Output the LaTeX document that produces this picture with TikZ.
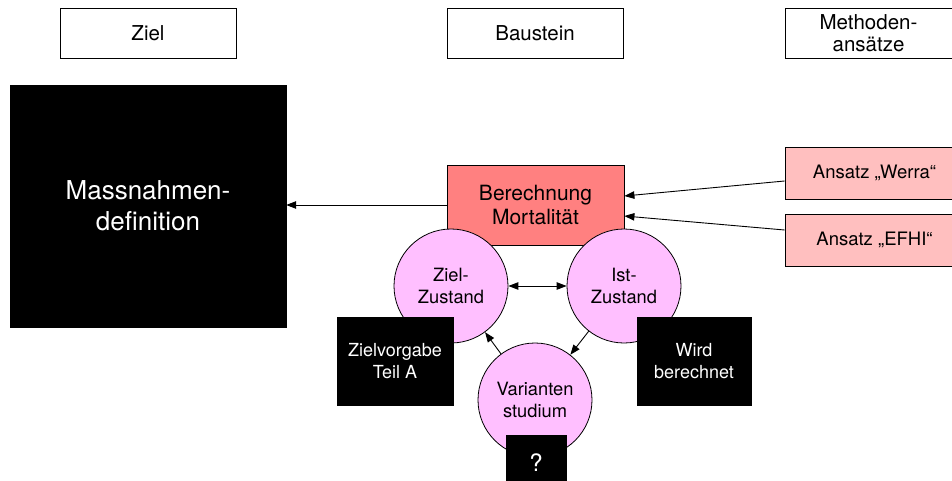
\documentclass[tikz,border=0pt]{standalone}
\usepackage{fontspec}
\setmainfont{TeX Gyre Heros}
\usetikzlibrary{arrows.meta}
\definecolor{salmon}{RGB}{255,128,128}
\definecolor{lightpink}{RGB}{255,191,191}
\definecolor{lilac}{RGB}{255,191,255}
\begin{document}
\begin{tikzpicture}[x=1pt,y=-1pt,
  hdr/.style={draw=black, line width=0.8pt, fill=white, inner sep=0pt, align=center,
    minimum height=50pt, font=\fontsize{20.5}{22}\selectfont},
  blk/.style={draw=black, fill=black, text=white, inner sep=0pt, align=center,
    font=\fontsize{18}{21.5}\selectfont},
  ansatz/.style={draw=black, line width=0.8pt, fill=lightpink, inner sep=0pt, align=center,
    minimum width=179pt, minimum height=52pt, font=\fontsize{18.5}{22}\selectfont},
  zustand/.style={circle, draw=black, line width=0.8pt, fill=lilac, inner sep=0pt, align=center,
    minimum size=114pt, font=\fontsize{18.3}{22.5}\selectfont},
  arr/.style={line width=0.9pt, -{Triangle[length=10pt,width=7.5pt]}},
  darr/.style={line width=0.9pt, {Triangle[length=10pt,width=7.5pt]}-{Triangle[length=10pt,width=7.5pt]}}
]
\useasboundingbox (0,0) rectangle (952,481);
\clip (0,0) rectangle (952,481);

% header boxes
\node[hdr, minimum width=176pt] (ziel) at (148,33) {Ziel};
\node[hdr, minimum width=176pt] (baustein) at (535,33) {Baustein};
\node[hdr, minimum width=167pt] (methoden) at (868.5,33) {Methoden-\\ansätze};

% big black box
\node[blk, minimum width=276pt, minimum height=242pt, font=\fontsize{26}{31}\selectfont] (mass) at (148,206) {Massnahmen-\\definition};

% Berechnung
\node[draw=black, line width=0.8pt, fill=salmon, inner sep=0pt, align=center,
  minimum width=177pt, minimum height=80pt, font=\fontsize{21}{23.5}\selectfont] (bm) at (535.5,205) {Berechnung\\Mortalität};

% Ansatz boxes
\node[ansatz] (werra) at (874.5,173) {Ansatz „Werra“};
\node[ansatz] (efhi) at (874.5,240) {Ansatz „EFHI“};

% circles
\node[zustand] (zz) at (451,286) {Ziel-\\Zustand};
\node[zustand] (iz) at (624,286) {Ist-\\Zustand};
\node[zustand] (vs) at (535,400) {Varianten\\studium};

% black label boxes
\node[blk, minimum width=116pt, minimum height=88pt] (zv) at (395,361) {Zielvorgabe\\Teil A};
\node[blk, minimum width=114pt, minimum height=88pt] (wb) at (694,361) {Wird\\berechnet};
\node[blk, minimum width=60pt, minimum height=60pt, font=\fontsize{24}{26}\selectfont] (q) at (536,465) {\raisebox{5pt}{?}};

% connectors
\draw[arr] (bm.west) -- (mass.east |- bm.west);
\draw[arr] ([yshift=-8pt]werra.west) -- ([yshift=9pt]bm.east);
\draw[arr] ([yshift=10pt]efhi.west) -- ([yshift=-11pt]bm.east);
\draw[darr] (zz.east) -- (iz.west);
\draw[arr] (vs) -- (zz);
\draw[arr] (iz) -- (vs);
\end{tikzpicture}
\end{document}
